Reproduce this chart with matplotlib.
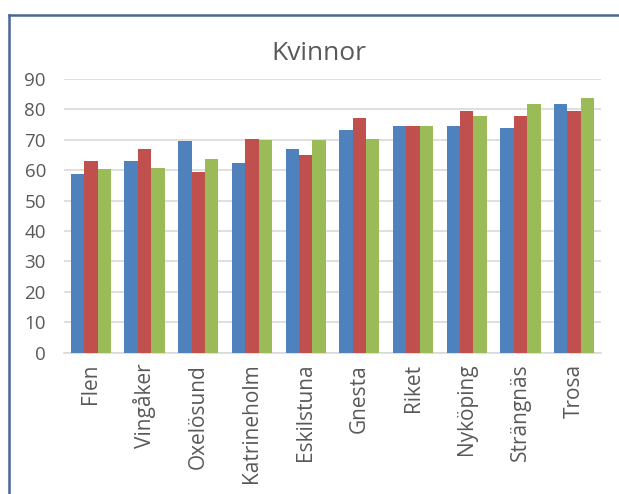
import matplotlib
matplotlib.use("Agg")
import matplotlib.pyplot as plt
import numpy as np
from matplotlib.lines import Line2D

categories = ["Flen", "Vingåker", "Oxelösund", "Katrineholm", "Eskilstuna",
              "Gnesta", "Riket", "Nyköping", "Strängnäs", "Trosa"]
series_blue = [58.6, 63.2, 69.6, 62.5, 67.1, 73.1, 74.4, 74.4, 73.8, 81.9]
series_red = [63.2, 67.1, 59.3, 70.2, 65.0, 77.3, 74.7, 79.5, 77.9, 79.5]
series_green = [60.4, 60.7, 63.6, 69.9, 69.9, 70.2, 74.4, 77.9, 81.9, 83.6]
yticks = [0, 10, 20, 30, 40, 50, 60, 70, 80, 90]
title = "Kvinnor"

plt.rcParams['font.family'] = ['Open Sans', 'DejaVu Sans']
txt = '#595959'

fig = plt.figure(figsize=(6.19, 4.94), dpi=100)
W, H = 619, 494
ax = fig.add_axes([64 / W, 1 - 352.7 / H, (601 - 64) / W, (352.7 - 79) / H])

x = np.arange(len(categories))
bw = 0.25
colors = ['#4F81BD', '#C0504D', '#9BBB59']
for i, (vals, c) in enumerate(zip([series_blue, series_red, series_green], colors)):
    ax.bar(x + (i - 1) * bw, vals, width=bw, color=c, zorder=3, linewidth=0)

ax.set_xlim(-0.5, len(categories) - 0.5)
ax.set_ylim(0, 90)
ax.set_yticks(yticks)
ax.set_yticklabels([str(v) for v in yticks])
ax.set_xticks(x)
ax.set_xticklabels(categories, rotation=90)
ax.yaxis.grid(True, color='#D9D9D9', linewidth=1.2, zorder=0)
ax.set_axisbelow(True)
for s in ['top', 'right', 'left']:
    ax.spines[s].set_visible(False)
ax.spines['bottom'].set_color('#D9D9D9')
ax.spines['bottom'].set_linewidth(1.2)
ax.tick_params(axis='both', length=0, colors=txt)
ax.tick_params(axis='y', pad=13, labelsize=13.5)
ax.tick_params(axis='x', pad=8, labelsize=15)

fig.text(319 / W, 1 - 53 / H, title, ha='center', va='center', fontsize=19, color=txt)

# outer chart border (left and top visible)
fig.add_artist(Line2D([9 / W, 9 / W], [0, 1 - 15 / H], transform=fig.transFigure,
                      color='#4A6796', linewidth=1.8))
fig.add_artist(Line2D([9 / W, 1.0], [1 - 15 / H, 1 - 15 / H], transform=fig.transFigure,
                      color='#4A6796', linewidth=1.8))

fig.savefig("out.png", dpi=100)
